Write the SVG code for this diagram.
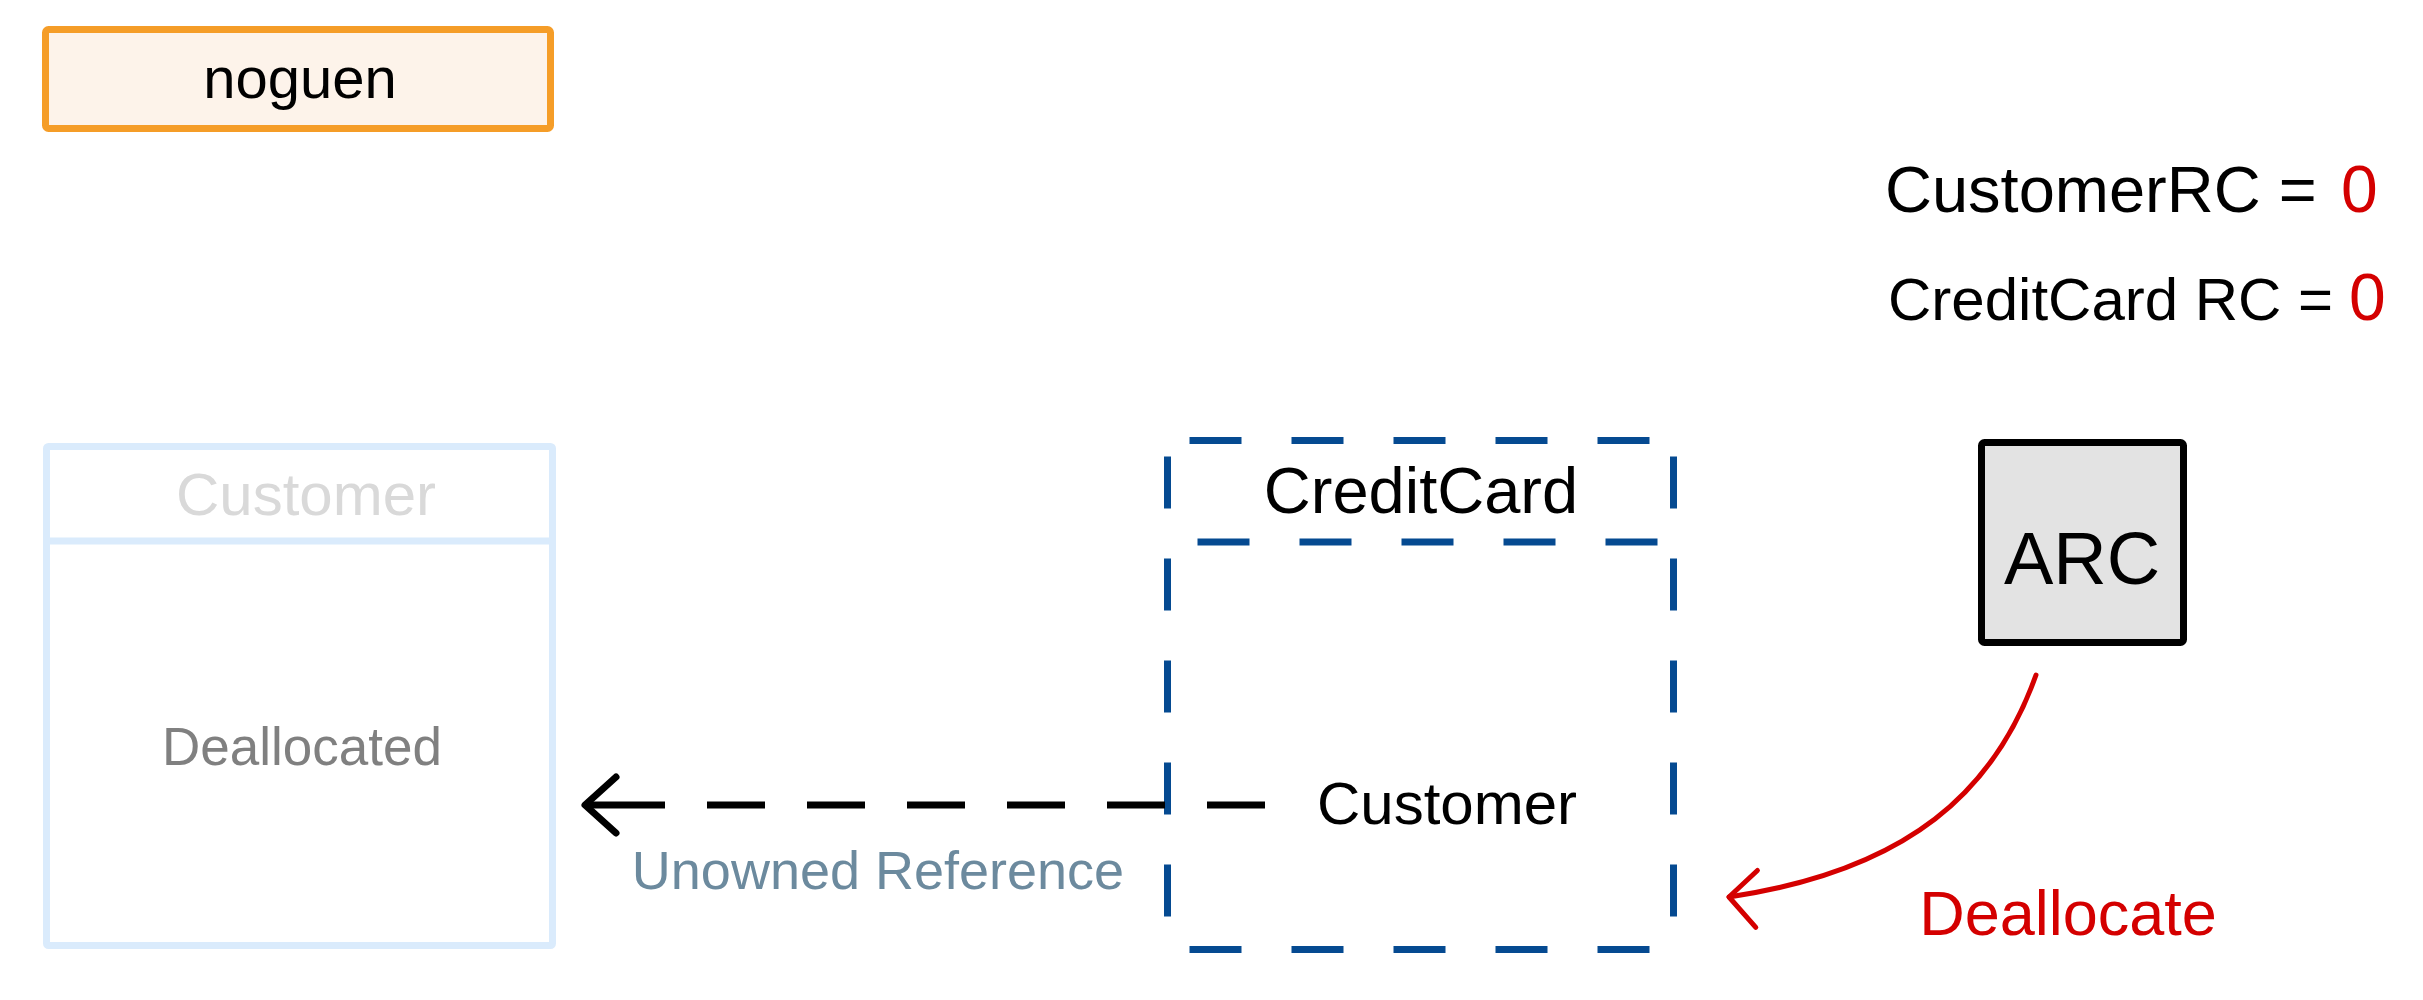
<svg xmlns="http://www.w3.org/2000/svg" width="2423" height="1000" viewBox="0 0 2423 1000">
<style>
text{font-family:"Liberation Sans","Noto Sans",sans-serif;}
.blk{fill:#000;}
.red{fill:#D40000;}
.dash{fill:none;stroke:#054A91;stroke-width:7;stroke-dasharray:52 50;}
</style>
<defs>
<marker id="openL" markerUnits="userSpaceOnUse" markerWidth="80" markerHeight="80" refX="0" refY="0" viewBox="-40 -40 80 80" orient="auto-start-reverse" overflow="visible">
<path d="M-31,-28 L0,0 L-31,28" fill="none" stroke="#000" stroke-width="7" stroke-linecap="round" stroke-linejoin="round"/>
</marker>
<marker id="openRed" markerUnits="userSpaceOnUse" markerWidth="80" markerHeight="80" refX="0" refY="0" viewBox="-40 -40 80 80" orient="auto" overflow="visible">
<path d="M-22,-34 L0,0 L-32,22" fill="none" stroke="#D40000" stroke-width="5" stroke-linecap="round" stroke-linejoin="round"/>
</marker>
</defs>
<rect width="2423" height="1000" fill="#fff"/>

<g id="title">
<rect x="45.5" y="29.5" width="505" height="99" rx="3" fill="#FDF3EA" stroke="#F59D28" stroke-width="7"/>
<text x="300" y="98" font-size="58" text-anchor="middle" class="blk">noguen</text>
</g>

<g id="rc-counts">
<text x="1885" y="212" font-size="65" class="blk">CustomerRC =</text>
<text x="2341" y="212" font-size="66" class="red">0</text>
<text x="1888" y="320" font-size="60" class="blk">CreditCard RC =</text>
<text x="2349" y="320" font-size="66" class="red">0</text>
</g>

<g id="customer">
<rect x="46.5" y="446.5" width="506" height="499" rx="2" fill="#fff" stroke="#DAEBFC" stroke-width="7"/>
<line x1="46.5" y1="541" x2="552.5" y2="541" stroke="#DAEBFC" stroke-width="7"/>
<text x="306" y="515" font-size="60" text-anchor="middle" fill="#D9D9D9">Customer</text>
<text x="302" y="765" font-size="53" text-anchor="middle" fill="#808080">Deallocated</text>
</g>

<g id="creditcard">
<line class="dash" x1="1167.5" y1="440.5" x2="1673.5" y2="440.5" stroke-dashoffset="80"/>
<line class="dash" x1="1167.5" y1="949.5" x2="1673.5" y2="949.5" stroke-dashoffset="80"/>
<line class="dash" x1="1167.5" y1="542" x2="1673.5" y2="542" stroke-dashoffset="72"/>
<line class="dash" x1="1167.5" y1="440.5" x2="1167.5" y2="949.5" stroke-dashoffset="86"/>
<line class="dash" x1="1673.5" y1="440.5" x2="1673.5" y2="949.5" stroke-dashoffset="86"/>
<text x="1421" y="513" font-size="65" text-anchor="middle" class="blk">CreditCard</text>
<text x="1447" y="824" font-size="60" text-anchor="middle" class="blk">Customer</text>
</g>

<g id="arc">
<rect x="1981.5" y="442.5" width="202" height="200" rx="3" fill="#E3E3E3" stroke="#000" stroke-width="7"/>
<text x="2082" y="584" font-size="74" text-anchor="middle" class="blk">ARC</text>
</g>

<g id="connectors">
<path d="M585,805 H1273" fill="none" stroke="#000" stroke-width="7" stroke-dasharray="80 42 58 42 58 42 58 42 58 42 58 42 58 42 58" marker-start="url(#openL)"/>
<path d="M2036,675 C1995,790 1910,870 1729,897" fill="none" stroke="#D40000" stroke-width="5" stroke-linecap="round" marker-end="url(#openRed)"/>
<text x="878" y="889" font-size="54" text-anchor="middle" fill="#6C8A9E">Unowned Reference</text>
<text x="2068" y="935" font-size="63" text-anchor="middle" class="red">Deallocate</text>
</g>
</svg>
